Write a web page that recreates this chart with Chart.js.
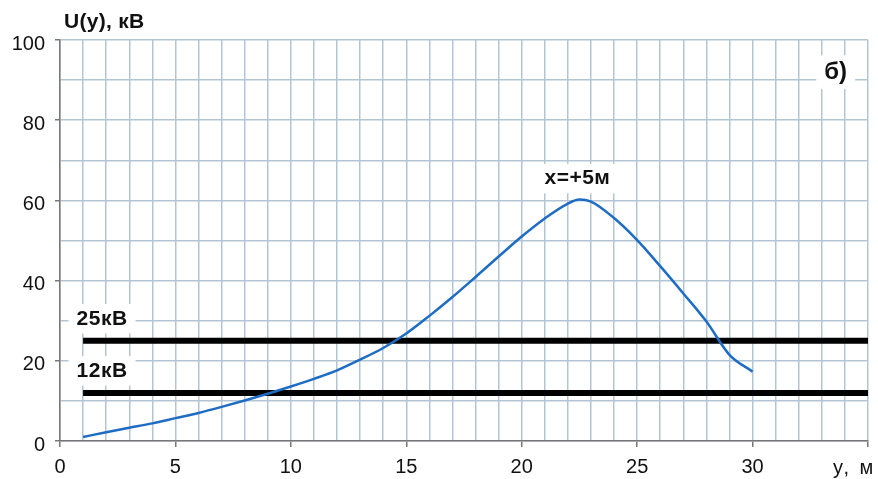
<!DOCTYPE html>
<html><head><meta charset="utf-8">
<script src="https://cdn.jsdelivr.net/npm/chart.js@4"></script>
<style>html,body{margin:0;padding:0;background:#fff}#c{display:block}</style>
</head><body>
<canvas id="c" width="878" height="479"></canvas>
<script>
const yPos = [1,2,3,4,5,6,7,8,9,10,11,12,13,14,15,16,17,18,19,20,21,22,22.5,23,24,25,26,27,28,29,30];
const uKV  = [1.0,2.2,3.3,4.4,5.7,7.0,8.5,10.1,11.8,13.6,15.5,17.6,20.3,23.2,26.8,31.2,35.9,40.9,46.0,51.0,55.5,59.2,60.2,59.7,55.6,50.1,43.6,36.8,29.8,21.5,17.3];
const thresholds = [25, 12];
const thresholdLabels = ['25кВ', '12кВ'];
const thresholdFrom = 1, thresholdTo = 35;
const xMin = 0, xMax = 35, yMin = 0, yMax = 100;
const peakLabel = 'x=+5м';
const panelLabel = 'б)';
const yTitle = 'U(y), кВ';
const xTitle = 'у, м';

const FONT = '"Liberation Sans", Arial, sans-serif';
const curve = yPos.map((x,i)=>({x, y:uKV[i]}));
const lineSets = thresholds.map(t=>({
  data:[{x:thresholdFrom,y:t},{x:thresholdTo,y:t}],
  borderColor:'#000', borderWidth:6, pointRadius:0, borderCapStyle:'butt'
}));

function label(ctx, text, cx, cy, size, bg, spacing) {
  ctx.save();
  ctx.font = 'bold ' + size + 'px ' + FONT;
  ctx.letterSpacing = (spacing || 0) + 'px';
  const w = ctx.measureText(text).width;
  if (bg) { ctx.fillStyle = '#fff'; ctx.fillRect(cx - w/2 - 8, cy - size*0.7, w + 16, size*1.4); }
  ctx.fillStyle = '#111'; ctx.textAlign = 'center'; ctx.textBaseline = 'middle';
  ctx.fillText(text, cx, cy);
  ctx.restore();
}

const textPlugin = {
  id:'texts',
  beforeDatasetsDraw(chart){
    const {ctx, scales:{x,y}} = chart;
    const iMax = uKV.indexOf(Math.max(...uKV));
    label(ctx, peakLabel, x.getPixelForValue(yPos[iMax]) - 2, y.getPixelForValue(Math.max(...uKV)) - 21, 21, true, 0.5);
    thresholds.forEach((t,i)=>{
      label(ctx, thresholdLabels[i], x.getPixelForValue(thresholdFrom) + 19, y.getPixelForValue(t) - 22, 21, true, 0.5);
    });
    label(ctx, panelLabel, x.getPixelForValue(33.6), y.getPixelForValue(92), 24, true, 0);
  },
  afterDraw(chart){
    const {ctx, chartArea} = chart;
    ctx.save();
    ctx.font = 'bold 21px ' + FONT; ctx.fillStyle = '#111';
    ctx.letterSpacing = '0.3px';
    ctx.textAlign = 'left'; ctx.textBaseline = 'middle';
    ctx.fillText(yTitle, chartArea.left + 4, chartArea.top - 18);
    ctx.font = '20px ' + FONT; ctx.letterSpacing = '2.5px';
    ctx.fillText(xTitle, chartArea.right - 35, chartArea.bottom + 27);
    ctx.restore();
  }
};

new Chart(document.getElementById('c'), {
  type:'line',
  data:{ datasets:[
    { data:curve, borderColor:'#1e6cc4', borderWidth:2.5, pointRadius:0, cubicInterpolationMode:'monotone' },
    ...lineSets
  ]},
  options:{
    responsive:false, animation:false,
    layout:{ padding:{ top:40, right:10, left:0, bottom:0 } },
    plugins:{ legend:{display:false}, tooltip:{enabled:false} },
    scales:{
      x:{ type:'linear', min:xMin, max:xMax,
        afterFit(s){ s.height = 38; },
        grid:{ color:'#b3c5d3', lineWidth:1.5, tickLength:6,
          tickColor:(c)=> (c.tick && c.tick.value % 5 === 0) ? '#777' : 'rgba(0,0,0,0)' },
        border:{ color:'#777', width:1.5 },
        ticks:{ stepSize:1, autoSkip:false, maxRotation:0, padding:8, color:'#111',
          font:{ family:FONT, size:20 },
          callback:(v)=> (v % 5 === 0 && v < xMax) ? String(v) : '' }
      },
      y:{ min:yMin, max:yMax,
        afterFit(s){ s.width = 60; },
        grid:{ color:'#b3c5d3', lineWidth:1.5, tickLength:5,
          tickColor:(c)=> (c.tick && c.tick.value % 20 === 0) ? '#777' : 'rgba(0,0,0,0)' },
        border:{ color:'#777', width:1.5 },
        ticks:{ stepSize:10, padding:10, color:'#111', labelOffset:4,
          font:{ family:FONT, size:20 },
          callback:(v)=> (v % 20 === 0) ? String(v) : '' }
      }
    }
  },
  plugins:[textPlugin]
});
</script>
</body></html>
